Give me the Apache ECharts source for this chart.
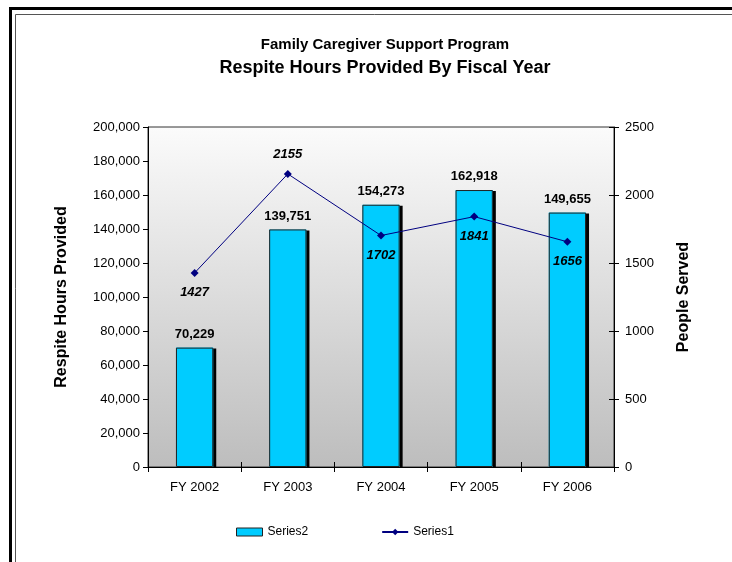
<!DOCTYPE html>
<html>
<head>
<meta charset="utf-8">
<style>
  html, body { margin: 0; padding: 0; background: #fff; }
  #chart { width: 732px; height: 562px; }
</style>
<script src="https://cdn.jsdelivr.net/npm/echarts@6/dist/echarts.min.js"></script>
</head>
<body>
<div id="chart"></div>
<script>
// Fiscal years and the two measures plotted against them
var years = ['FY 2002', 'FY 2003', 'FY 2004', 'FY 2005', 'FY 2006'];
var respiteHours = [70229, 139751, 154273, 162918, 149655];   // bars, left axis
var peopleServed = [1427, 2155, 1702, 1841, 1656];             // line, right axis

var hoursAxis = { min: 0, max: 200000, interval: 20000 };
var peopleAxis = { min: 0, max: 2500, interval: 500 };

var FONT = '"Liberation Sans", Arial, sans-serif';
var AXIS_COLOR = '#000';
var BAR_FILL = '#00CCFF';
var BAR_EDGE = '#222';

function withCommas(v) {
  return Number(v).toLocaleString('en-US');
}

var chart = echarts.init(document.getElementById('chart'), null, { renderer: 'canvas' });

var gridBox = { left: 148, top: 127, right: 118, bottom: 95 };

var option = {
  backgroundColor: '#fff',
  animation: false,
  textStyle: { fontFamily: FONT },
  title: [
    {
      text: 'Family Caregiver Support Program',
      left: 380, top: 32, textAlign: 'center',
      textStyle: { fontFamily: FONT, fontSize: 15, fontWeight: 'bold', color: '#000' }
    },
    {
      text: 'Respite Hours Provided By Fiscal Year',
      left: 380, top: 54, textAlign: 'center',
      textStyle: { fontFamily: FONT, fontSize: 18, fontWeight: 'bold', color: '#000' }
    }
  ],
  graphic: [
    // double frame around the chart
    { type: 'rect', silent: true, z: 100,
      shape: { x: 10.5, y: 8.5, width: 900, height: 900 },
      style: { fill: 'none', stroke: '#000', lineWidth: 3 } },
    { type: 'rect', silent: true, z: 100,
      shape: { x: 15.5, y: 14.5, width: 900, height: 900 },
      style: { fill: 'none', stroke: '#555', lineWidth: 1 } }
  ],
  legend: {
    left: 231, top: 521,
    itemWidth: 26, itemHeight: 8, itemGap: 73,
    textStyle: { fontFamily: FONT, fontSize: 12, color: '#000' },
    data: [
      { name: 'Series2', icon: 'rect',
        itemStyle: { color: BAR_FILL, borderColor: BAR_EDGE, borderWidth: 1 } },
      { name: 'Series1' }
    ]
  },
  grid: {
    left: gridBox.left, top: gridBox.top, right: gridBox.right, bottom: gridBox.bottom,
    show: true,
    borderColor: '#333', borderWidth: 1,
    backgroundColor: {
      type: 'linear', x: 0, y: 0, x2: 0, y2: 1,
      colorStops: [
        { offset: 0, color: '#fbfbfb' },
        { offset: 1, color: '#bdbdbd' }
      ]
    }
  },
  xAxis: [
    {
      type: 'category', data: years, boundaryGap: true,
      axisLine: { lineStyle: { color: AXIS_COLOR, width: 1 } },
      axisTick: { show: true, length: 5, lineStyle: { color: AXIS_COLOR } },
      axisLabel: { fontFamily: FONT, fontSize: 13, color: '#000', margin: 14 },
      splitLine: { show: false },
      z: 10
    },
    {
      // inner half of the crossing tick marks
      type: 'category', data: years, boundaryGap: true, position: 'bottom',
      axisLine: { show: false },
      axisTick: { show: true, inside: true, length: 5, lineStyle: { color: AXIS_COLOR } },
      axisLabel: { show: false },
      splitLine: { show: false }
    }
  ],
  yAxis: [
    {
      type: 'value', position: 'left',
      min: hoursAxis.min, max: hoursAxis.max, interval: hoursAxis.interval,
      name: 'Respite Hours Provided', nameLocation: 'middle', nameGap: 78, nameRotate: 90,
      nameTextStyle: { fontFamily: FONT, fontSize: 16, fontWeight: 'bold', color: '#000' },
      axisLine: { show: true, lineStyle: { color: AXIS_COLOR } },
      axisTick: { show: true, length: 5, lineStyle: { color: AXIS_COLOR } },
      axisLabel: { fontFamily: FONT, fontSize: 13, color: '#000', margin: 8, formatter: withCommas },
      splitLine: { show: false }
    },
    {
      type: 'value', position: 'right',
      min: peopleAxis.min, max: peopleAxis.max, interval: peopleAxis.interval,
      name: 'People Served', nameLocation: 'middle', nameGap: 62, nameRotate: 90,
      nameTextStyle: { fontFamily: FONT, fontSize: 16, fontWeight: 'bold', color: '#000' },
      axisLine: { show: true, lineStyle: { color: AXIS_COLOR } },
      axisTick: { show: true, length: 5, lineStyle: { color: AXIS_COLOR } },
      axisLabel: { fontFamily: FONT, fontSize: 13, color: '#000', margin: 11,
                   formatter: function (v) { return String(v); } },
      splitLine: { show: false }
    },
    {
      // inner half of the right axis crossing ticks
      type: 'value', position: 'right',
      min: peopleAxis.min, max: peopleAxis.max, interval: peopleAxis.interval,
      axisLine: { show: false },
      axisTick: { show: true, inside: true, length: 5, lineStyle: { color: AXIS_COLOR } },
      axisLabel: { show: false },
      splitLine: { show: false }
    }
  ],
  series: [
    {
      // filled bars with a hard drop shadow
      name: 'Series2', type: 'bar', xAxisIndex: 0, yAxisIndex: 0,
      data: respiteHours,
      barWidth: '40%',
      itemStyle: {
        color: BAR_FILL, borderWidth: 0,
        shadowColor: '#000', shadowBlur: 0, shadowOffsetX: 3, shadowOffsetY: 1
      },
      label: {
        show: true, position: 'top', distance: 7,
        fontFamily: FONT, fontSize: 13, fontWeight: 'bold', color: '#000',
        formatter: function (p) { return withCommas(p.value); }
      },
      z: 2
    },
    {
      // outline drawn on top of the filled bars (no shadow)
      name: 'Series2 outline', type: 'bar', xAxisIndex: 0, yAxisIndex: 0,
      data: respiteHours,
      barWidth: '40%', barGap: '-100%',
      silent: true,
      itemStyle: { color: 'rgba(0,0,0,0)', borderColor: BAR_EDGE, borderWidth: 1 },
      label: { show: false },
      z: 3
    },
    {
      name: 'Series1', type: 'line', xAxisIndex: 0, yAxisIndex: 1,
      data: peopleServed.map(function (v, i) {
        return { value: v, label: { position: i === 1 ? 'top' : 'bottom' } };
      }),
      symbol: 'diamond', symbolSize: 8,
      lineStyle: { color: '#000080', width: 1 },
      itemStyle: { color: '#000080' },
      label: {
        show: true, distance: 9,
        fontFamily: FONT, fontSize: 13, fontWeight: 'bold', fontStyle: 'italic', color: '#000'
      },
      z: 5
    }
  ]
};

chart.setOption(option);
</script>
</body>
</html>
